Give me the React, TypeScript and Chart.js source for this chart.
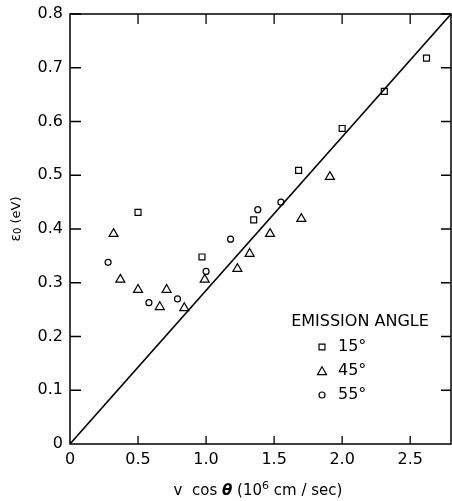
import React, { useEffect, useRef } from "react";
import { Chart, registerables } from "chart.js";

Chart.register(...registerables);

const xTicks = [0, 0.5, 1.0, 1.5, 2.0, 2.5];
const xTickLabels = ["0", "0.5", "1.0", "1.5", "2.0", "2.5"];
const yTicks = [0, 0.1, 0.2, 0.3, 0.4, 0.5, 0.6, 0.7, 0.8];
const yTickLabels = ["0", "0.1", "0.2", "0.3", "0.4", "0.5", "0.6", "0.7", "0.8"];

const angle15x = [0.5, 0.97, 1.35, 1.68, 2.0, 2.31, 2.62];
const angle15y = [0.431, 0.348, 0.417, 0.509, 0.587, 0.656, 0.718];

const angle45x = [0.32, 0.37, 0.5, 0.66, 0.71, 0.84, 0.99, 1.23, 1.32, 1.47, 1.7, 1.91];
const angle45y = [0.391, 0.306, 0.287, 0.255, 0.287, 0.253, 0.306, 0.326, 0.354, 0.391, 0.419, 0.497];

const angle55x = [0.28, 0.58, 0.79, 1.0, 1.18, 1.38, 1.55];
const angle55y = [0.338, 0.263, 0.27, 0.321, 0.381, 0.436, 0.45];

const fitLineX = [0, 2.8];
const fitLineY = [0, 0.8];

const legendTitle = "EMISSION ANGLE";
const legendLabels = ["15°", "45°", "55°"];

const FONT = "'DejaVu Sans', sans-serif";

const pts = (xs: number[], ys: number[]) => xs.map((x, i) => ({ x, y: ys[i] }));

const framePlugin = {
  id: "frame",
  afterDraw(chart: any) {
    const { ctx, chartArea } = chart;
    const { left, right, top, bottom } = chartArea;
    const xs = chart.scales.x;
    const ys = chart.scales.y;
    ctx.save();
    ctx.strokeStyle = "#000";
    ctx.lineWidth = 1.5;
    ctx.strokeRect(left, top, right - left, bottom - top);
    // inward ticks
    ctx.lineWidth = 1.3;
    ctx.beginPath();
    xTicks.forEach((v) => {
      const px = xs.getPixelForValue(v);
      if (v === 0) return;
      ctx.moveTo(px, bottom);
      ctx.lineTo(px, bottom - 8);
      ctx.moveTo(px, top);
      ctx.lineTo(px, top + 10);
    });
    yTicks.forEach((v) => {
      const py = ys.getPixelForValue(v);
      if (v === 0) return;
      ctx.moveTo(left, py);
      ctx.lineTo(left + 11, py);
      ctx.moveTo(right, py);
      ctx.lineTo(right - 10, py);
    });
    ctx.stroke();

    ctx.fillStyle = "#000";
    // x title
    const base = "15px " + FONT;
    const segs: [string, string, number][] = [
      ["v  cos ", base, 0],
      ["θ", "italic bold 15px " + FONT, 0],
      [" (10", base, 0],
      ["6", "11px " + FONT, -6],
      [" cm / sec)", base, 0],
    ];
    let total = 0;
    segs.forEach(([t, f]) => {
      ctx.font = f;
      total += ctx.measureText(t).width;
    });
    let x = 258 - total / 2;
    ctx.textBaseline = "alphabetic";
    ctx.textAlign = "left";
    segs.forEach(([t, f, dy]) => {
      ctx.font = f;
      ctx.fillText(t, x, 495 + dy);
      x += ctx.measureText(t).width;
    });

    // y title
    ctx.save();
    ctx.translate(20, 219);
    ctx.rotate(-Math.PI / 2);
    const ysegs: [string, string, number][] = [
      ["ε", "14px " + FONT, 0],
      ["0", "10px " + FONT, 1],
      [" (eV)", "13px " + FONT, 0],
    ];
    let yt = 0;
    ysegs.forEach(([t, f]) => {
      ctx.font = f;
      yt += ctx.measureText(t).width;
    });
    let yx = -yt / 2;
    ysegs.forEach(([t, f, dy]) => {
      ctx.font = f;
      ctx.fillText(t, yx, dy);
      yx += ctx.measureText(t).width;
    });
    ctx.restore();

    // legend
    ctx.font = "16px " + FONT;
    ctx.textAlign = "center";
    ctx.textBaseline = "middle";
    ctx.fillText(legendTitle, 360, 322);
    const styles = ["rect", "triangle", "circle"];
    const radii = [4.2, 5.2, 3];
    const ly = [347, 371, 395];
    ctx.lineWidth = 1.2;
    styles.forEach((s, i) => {
      ctx.beginPath();
      ctx.strokeStyle = "#000";
      if (s === "rect") {
        const h = radii[i] * Math.SQRT1_2;
        ctx.rect(322 - h, ly[i] - h, 2 * h, 2 * h);
      } else if (s === "triangle") {
        const r = radii[i];
        const cy = ly[i] + 1;
        ctx.moveTo(322, cy - r);
        ctx.lineTo(322 + r * Math.cos(Math.PI / 6), cy + r / 2);
        ctx.lineTo(322 - r * Math.cos(Math.PI / 6), cy + r / 2);
        ctx.closePath();
      } else {
        ctx.arc(322, ly[i], radii[i], 0, Math.PI * 2);
      }
      ctx.stroke();
      ctx.textAlign = "left";
      ctx.fillText(legendLabels[i], 338, ly[i]);
    });
    ctx.restore();
  },
};

export default function App() {
  const ref = useRef<HTMLCanvasElement | null>(null);
  useEffect(() => {
    if (!ref.current) return;
    const marker = {
      borderColor: "#000",
      backgroundColor: "rgba(0,0,0,0)",
      borderWidth: 1.2,
      showLine: false,
    };
    const chart = new Chart(ref.current, {
      type: "scatter",
      data: {
        datasets: [
          {
            type: "line",
            data: pts(fitLineX, fitLineY),
            borderColor: "#000",
            borderWidth: 1.5,
            pointRadius: 0,
            fill: false,
          } as any,
          { ...marker, data: pts(angle15x, angle15y), pointStyle: "rect", pointRadius: 4.2 },
          { ...marker, data: pts(angle45x, angle45y), pointStyle: "triangle", pointRadius: 5.2 },
          { ...marker, data: pts(angle55x, angle55y), pointStyle: "circle", pointRadius: 3 },
        ],
      },
      options: {
        animation: false,
        responsive: false,
        devicePixelRatio: 1,
        layout: { autoPadding: false, padding: { top: 14, right: 1, left: 0, bottom: 0 } },
        plugins: { legend: { display: false }, tooltip: { enabled: false } },
        scales: {
          x: {
            type: "linear",
            min: 0,
            max: 2.8,
            grid: { display: false, drawTicks: false },
            border: { display: false },
            afterBuildTicks: (s: any) => {
              s.ticks = xTicks.map((v) => ({ value: v }));
            },
            afterFit: (s: any) => {
              s.height = 57;
              s.paddingRight = 0;
              s.paddingLeft = 0;
            },
            ticks: {
              color: "#000",
              padding: 6,
              font: { family: FONT, size: 16 },
              autoSkip: false,
              maxRotation: 0,
              callback: (v: any) => {
                const i = xTicks.findIndex((t) => Math.abs(t - Number(v)) < 1e-9);
                return i >= 0 ? xTickLabels[i] : "";
              },
            },
          },
          y: {
            type: "linear",
            min: 0,
            max: 0.8,
            grid: { display: false, drawTicks: false },
            border: { display: false },
            afterBuildTicks: (s: any) => {
              s.ticks = yTicks.map((v) => ({ value: v }));
            },
            afterFit: (s: any) => {
              s.width = 70;
              s.paddingTop = 0;
              s.paddingBottom = 0;
            },
            ticks: {
              color: "#000",
              padding: 7,
              font: { family: FONT, size: 16 },
              autoSkip: false,
              callback: (v: any) => {
                const i = yTicks.findIndex((t) => Math.abs(t - Number(v)) < 1e-9);
                return i >= 0 ? yTickLabels[i] : "";
              },
            },
          },
        },
      },
      plugins: [framePlugin],
    } as any);
    return () => chart.destroy();
  }, []);
  return (
    <div style={{ position: "fixed", left: 0, top: 0, width: 452, height: 501, background: "#fff" }}>
      <canvas ref={ref} width={452} height={501} style={{ display: "block" }} />
    </div>
  );
}
